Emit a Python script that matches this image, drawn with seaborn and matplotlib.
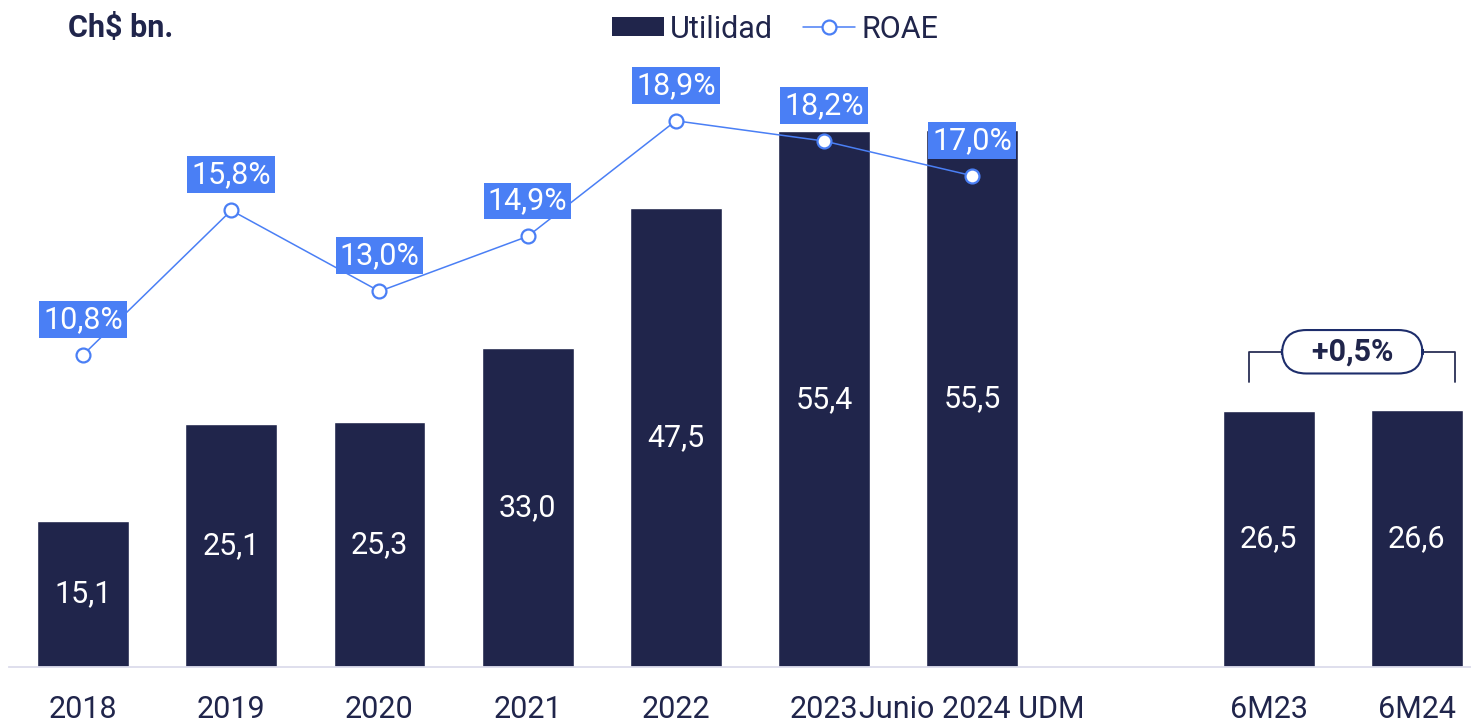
import matplotlib
matplotlib.use("Agg")
import matplotlib.pyplot as plt
import seaborn as sns
import pandas as pd
from matplotlib.patches import Patch
from matplotlib.lines import Line2D

# ---- data ----
categories = ["2018", "2019", "2020", "2021", "2022", "2023", "Junio 2024 UDM", " ", "6M23", "6M24"]
bar_cats = ["2018", "2019", "2020", "2021", "2022", "2023", "Junio 2024 UDM", "6M23", "6M24"]
utilidad = [15.1, 25.1, 25.3, 33.0, 47.5, 55.4, 55.5, 26.5, 26.6]
roae_cats = ["2018", "2019", "2020", "2021", "2022", "2023", "Junio 2024 UDM"]
roae = [10.8, 15.8, 13.0, 14.9, 18.9, 18.2, 17.0]
change_label = "+0,5%"
unit_label = "Ch$ bn."

NAVY = "#20254b"
BLUE = "#4a7ff5"
TXT = "#20254b"

sns.set_theme(style="white")
plt.rcParams["font.family"] = ["Roboto", "DejaVu Sans"]

W, H = 1471, 721
fig = plt.figure(figsize=(W / 100, H / 100), dpi=100)
ax = fig.add_axes([9 / W, (H - 667) / H, 1 - 9 / W, (667 - 40) / H])

df = pd.DataFrame({"cat": bar_cats, "val": utilidad})
sns.barplot(data=df, x="cat", y="val", order=categories, color=NAVY,
            saturation=1, width=0.62, ax=ax)
ax.set_xlim(-0.5, 9.366)
ax.set_ylim(0, 64.84)
ax.set_xlabel("")
ax.set_ylabel("")
ax.set_yticks([])
for s in ["top", "left", "right"]:
    ax.spines[s].set_visible(False)
ax.spines["bottom"].set_color("#dcdcec")
ax.spines["bottom"].set_linewidth(1.3)
ax.tick_params(axis="x", length=0, pad=20, labelsize=22, labelcolor=TXT)

pos = {c: categories.index(c) for c in categories}
for c, v in zip(bar_cats, utilidad):
    ax.text(pos[c], v / 2, f"{v:.1f}".replace(".", ","), ha="center", va="center",
            color="white", fontsize=22)

# ROAE line on twin axis
ax2 = ax.twinx()
ax2.set_ylim(0, 627 / 28.9)
ax2.set_axis_off()
rx = [pos[c] for c in roae_cats]
sns.lineplot(x=rx, y=roae, ax=ax2, color=BLUE, linewidth=1.1, marker="o",
             markersize=10, markerfacecolor="white", markeredgecolor=BLUE,
             markeredgewidth=1.6, legend=False)
for x, v in zip(rx, roae):
    ax2.annotate(f"{v:.1f}%".replace(".", ","), xy=(x, v), xytext=(0, 25.5),
                 textcoords="offset points", ha="center", va="center",
                 color="white", fontsize=22,
                 bbox=dict(boxstyle="square,pad=0.13", fc=BLUE, ec="none"))

# change bracket
x0 = pos["6M23"] - 0.13
x1 = pos["6M24"] + 0.26
ytop = max(utilidad[-2:]) + 6.0
ybot = max(utilidad[-2:]) + 2.9
ax.plot([x0, x0, x1, x1], [ybot, ytop, ytop, ybot], color="#2a2f55", lw=1.3,
        clip_on=False, zorder=3)
ax.text((x0 + x1) / 2, ytop, "   " + change_label + "   ", ha="center", va="center",
        color=TXT, fontsize=22, fontweight="bold", zorder=4,
        bbox=dict(boxstyle="round,pad=0.22,rounding_size=0.8", fc="white",
                  ec="#1d2d6b", lw=1.5))

# titles / legend
fig.text(68 / W, 1 - 28 / H, unit_label, ha="left", va="center", fontsize=22,
         fontweight="bold", color=TXT)
handles = [Patch(facecolor=NAVY, edgecolor="none"),
           Line2D([], [], color=BLUE, lw=1.1, marker="o", markersize=10,
                  markerfacecolor="white", markeredgecolor=BLUE, markeredgewidth=1.6)]
fig.legend(handles, ["Utilidad", "ROAE"], loc="center", ncol=2,
           bbox_to_anchor=(775 / W, 1 - 29 / H), frameon=False, fontsize=22,
           labelcolor=TXT, handlelength=1.7, handleheight=0.6, handletextpad=0.2,
           columnspacing=1.0, borderpad=0)

fig.savefig("out.png", dpi=100)
